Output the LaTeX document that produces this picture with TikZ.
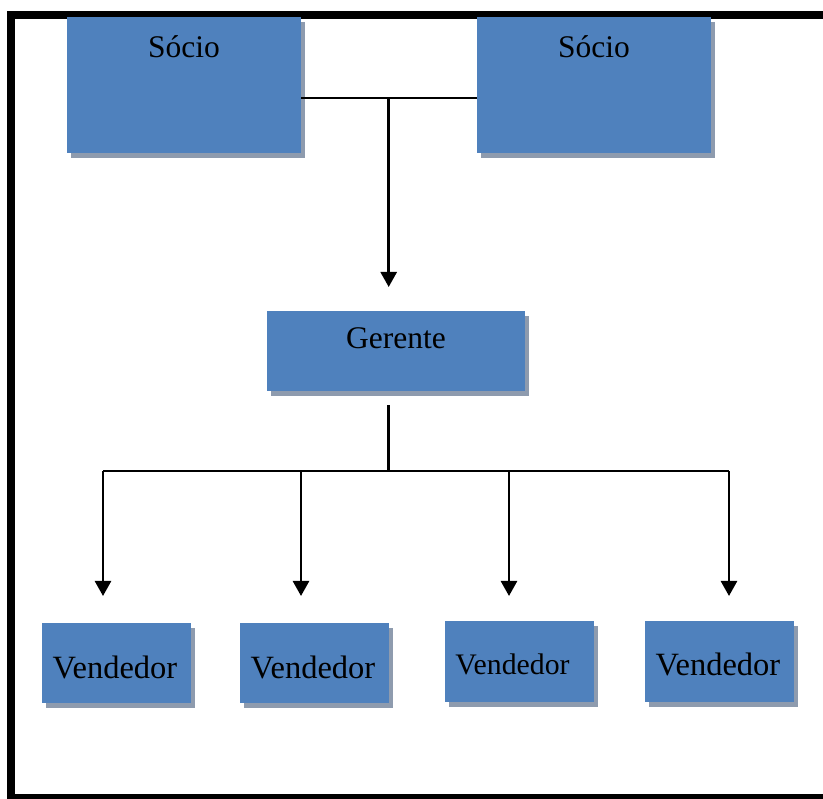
\documentclass[tikz,border=0pt]{standalone}
\usepackage{fontspec}
\setmainfont{Liberation Serif}
\usetikzlibrary{arrows.meta,shadows}
\definecolor{boxblue}{HTML}{4F81BD}
\definecolor{shadowgray}{HTML}{8E9BAE}
\tikzset{
  orgbox/.style={draw=none, fill=boxblue, inner sep=0pt, anchor=north west,
    drop shadow={shadow xshift=3.5pt, shadow yshift=-5pt, fill=shadowgray, opacity=1}},
  lbl/.style={anchor=base, inner sep=0pt, font=\fontsize{31.5}{36}\selectfont},
  vlbl/.style={lbl, font=\fontsize{32.5}{36}\selectfont},
  conn/.style={line width=2.6pt, draw=black},
  arr/.style={conn, -{Triangle[width=16pt,length=15pt]}},
}
\begin{document}
\begin{tikzpicture}[x=1pt,y=-1pt]
\useasboundingbox (0,0) rectangle (823,799);
% frame
\draw[line width=8pt] (840,15) -- (11,15) -- (11,798) -- (840,798);
% boxes
\node[orgbox, minimum width=234pt, minimum height=136pt] (s1) at (67,17) {};
\node[orgbox, minimum width=234pt, minimum height=136pt] (s2) at (477,17) {};
\node[orgbox, minimum width=258pt, minimum height=80pt] (g) at (267,311) {};
\node[orgbox, minimum width=149pt, minimum height=80pt] (v1) at (42,623) {};
\node[orgbox, minimum width=149pt, minimum height=80pt] (v2) at (240,623) {};
\node[orgbox, minimum width=149pt, minimum height=81pt] (v3) at (445,621) {};
\node[orgbox, minimum width=149pt, minimum height=81pt] (v4) at (645,621) {};
% labels
\node[lbl] (t1) at (184,58) {Sócio};
\node[lbl] (t2) at (594,58) {Sócio};
\node[lbl] (tg) at (396,349) {Gerente};
\node[vlbl] (tv1) at (115,678) {Vendedor};
\node[vlbl] (tv2) at (313,678) {Vendedor};
\node[lbl, font=\fontsize{29.8}{34}\selectfont] (tv3) at (512.5,674) {Vendedor};
\node[vlbl] (tv4) at (718,676) {Vendedor};
% connectors
\coordinate (j1) at (388.7,98);
\coordinate (j2) at (388.7,471);
\coordinate (c1) at (103,471);
\coordinate (c2) at (301,471);
\coordinate (c3) at (509,471);
\coordinate (c4) at (729,471);
\draw[conn] (s1.east |- j1) -- (s2.west |- j1);
\draw[arr, shorten >=24pt] (j1) -- (j1 |- g.north);
\draw[conn] ([yshift=-14pt]g.south -| j2) -- (j2);
\draw[conn] (c1) -- (c4);
\draw[arr, shorten >=27pt] (c1) -- (c1 |- v1.north);
\draw[arr, shorten >=27pt] (c2) -- (c2 |- v2.north);
\draw[arr, shorten >=25pt] (c3) -- (c3 |- v3.north);
\draw[arr, shorten >=25pt] (c4) -- (c4 |- v4.north);
\end{tikzpicture}
\end{document}
